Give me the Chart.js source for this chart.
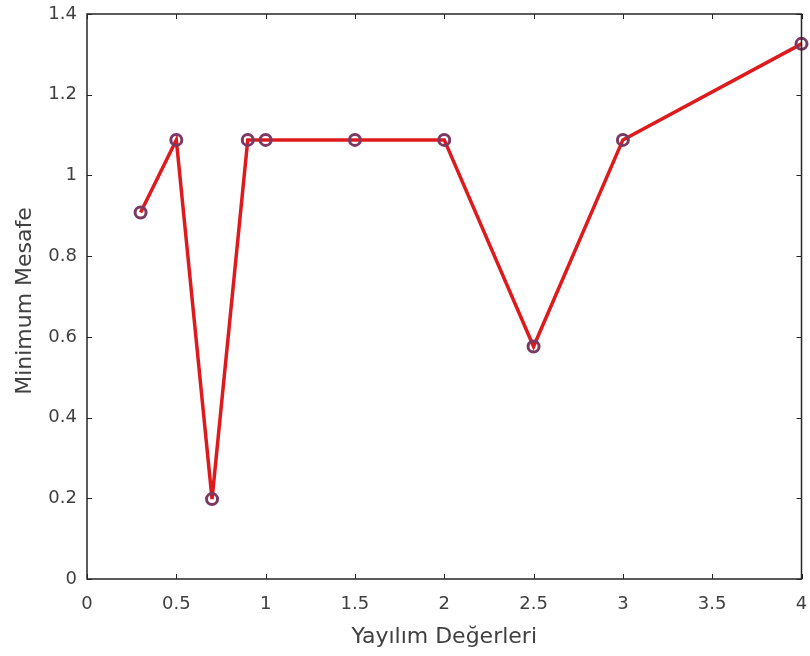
<!DOCTYPE html>
<html lang="tr">
<head>
    <meta charset="UTF-8">
    <title>Minimum Mesafe</title>
    <script src="https://cdn.jsdelivr.net/npm/chart.js"></script>
    <style>
        body { margin: 0; background: #ffffff; }
        #wrap { width: 810px; height: 656px; position: relative; }
    </style>
</head>
<body>
    <div id="wrap"><canvas id="chart"></canvas></div>
    <script>
        // x = yayılım değerleri, y = minimum mesafe
        let spreadValues = [0.3, 0.5, 0.7, 0.9, 1.0, 1.5, 2.0, 2.5, 3.0, 4.0];
        let minDistance = [0.908, 1.088, 0.198, 1.088, 1.088, 1.088, 1.088, 0.576, 1.088, 1.326];
        let xTicks = [0, 0.5, 1, 1.5, 2, 2.5, 3, 3.5, 4];
        let yTicks = [0, 0.2, 0.4, 0.6, 0.8, 1, 1.2, 1.4];
        let xTitle = "Yayılım Değerleri";
        let yTitle = "Minimum Mesafe";

        const axisColor = "#262626";
        const textColor = "#404040";
        const fontFamily = "'DejaVu Sans', sans-serif";

        // MATLAB style box with inward ticks on every side, plus axis titles
        const boxTicks = {
            id: "boxTicks",
            afterDatasetsDraw(chart) {
                const ctx = chart.ctx;
                const a = chart.chartArea;
                const xs = chart.scales.x, ys = chart.scales.y;
                const len = 5;
                ctx.save();
                ctx.strokeStyle = axisColor;
                ctx.lineWidth = 1;
                ctx.beginPath();
                xTicks.forEach(v => {
                    const px = Math.round(xs.getPixelForValue(v)) + 0.5;
                    ctx.moveTo(px, a.bottom); ctx.lineTo(px, a.bottom - len);
                    ctx.moveTo(px, a.top); ctx.lineTo(px, a.top + len);
                });
                yTicks.forEach(v => {
                    const py = Math.round(ys.getPixelForValue(v)) + 0.5;
                    ctx.moveTo(a.left, py); ctx.lineTo(a.left + len, py);
                    ctx.moveTo(a.right, py); ctx.lineTo(a.right - len, py);
                });
                ctx.stroke();
                ctx.lineWidth = 1.5;
                ctx.strokeRect(a.left, a.top, a.right - a.left, a.bottom - a.top);

                ctx.fillStyle = textColor;
                ctx.font = "22px " + fontFamily;
                ctx.textAlign = "center";
                ctx.textBaseline = "alphabetic";
                ctx.fillText(xTitle, (a.left + a.right) / 2, 643);
                ctx.translate(31, 301);
                ctx.rotate(-Math.PI / 2);
                ctx.fillText(yTitle, 0, 0);
                ctx.restore();
            }
        };

        new Chart(document.getElementById("chart"), {
            type: "line",
            data: {
                datasets: [{
                    label: yTitle,
                    data: spreadValues.map((x, i) => ({ x: x, y: minDistance[i] })),
                    borderColor: "#de1a1c",
                    borderWidth: 3.5,
                    pointRadius: 5.5,
                    pointBorderWidth: 3,
                    pointBorderColor: "#7b3a62",
                    pointBackgroundColor: "rgba(0,0,0,0)",
                    tension: 0,
                    clip: false
                }]
            },
            options: {
                responsive: true,
                maintainAspectRatio: false,
                animation: false,
                layout: { padding: { top: 14, right: 6, left: 0, bottom: 0 } },
                plugins: {
                    legend: { display: false },
                    tooltip: { enabled: false }
                },
                scales: {
                    x: {
                        type: "linear",
                        min: 0,
                        max: 4,
                        afterBuildTicks: s => { s.ticks = xTicks.map(v => ({ value: v })); },
                        afterFit: s => {
                            s.height = 77;
                            s.paddingLeft = 0; s.paddingRight = 0;
                        },
                        grid: { display: false, drawTicks: false },
                        border: { display: false },
                        ticks: {
                            padding: 15,
                            color: textColor,
                            font: { family: fontFamily, size: 18 },
                            callback: v => String(v)
                        }
                    },
                    y: {
                        type: "linear",
                        min: 0,
                        max: 1.4,
                        afterBuildTicks: s => { s.ticks = yTicks.map(v => ({ value: v })); },
                        afterFit: s => {
                            s.width = 87;
                            s.paddingTop = 0; s.paddingBottom = 0;
                        },
                        grid: { display: false, drawTicks: false },
                        border: { display: false },
                        ticks: {
                            padding: 10,
                            color: textColor,
                            font: { family: fontFamily, size: 18 },
                            callback: v => String(v)
                        }
                    }
                }
            },
            plugins: [boxTicks]
        });
    </script>
</body>
</html>
